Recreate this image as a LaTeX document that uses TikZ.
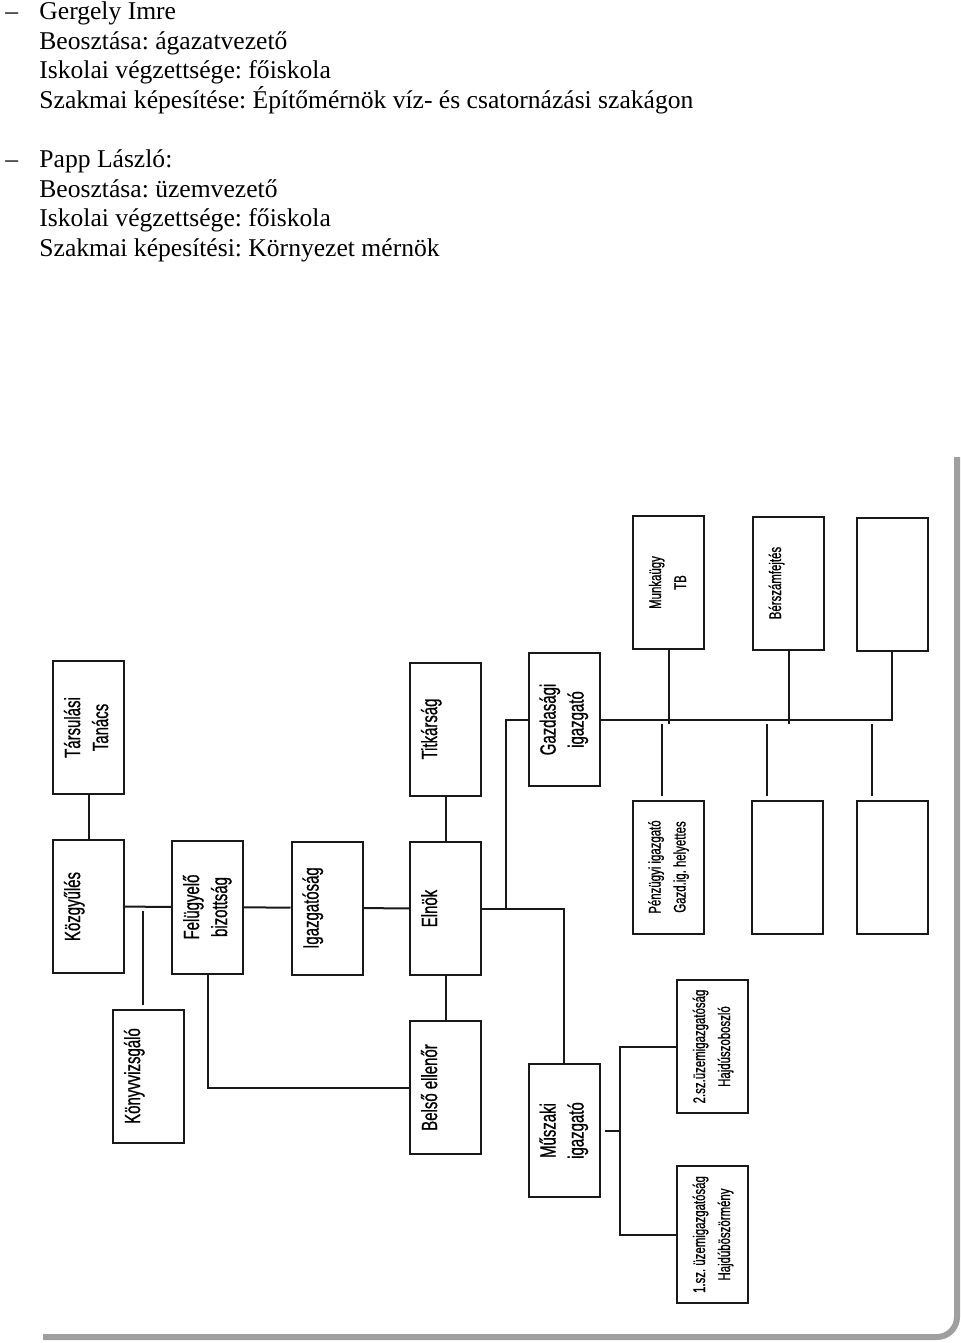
\documentclass[tikz,border=0pt]{standalone}
\usepackage{fontspec}
\setmainfont{Liberation Serif}
\newfontfamily\boxfont[FakeStretch=0.68,FakeBold=0.8]{Liberation Sans}
\usepackage{graphicx}
\usetikzlibrary{positioning,calc}
\newcommand{\vlbl}[1]{\rotatebox{90}{\begin{tabular}{@{}c@{}}#1\end{tabular}}}
\frenchspacing

\begin{document}
\begin{tikzpicture}[x=0.5pt,y=-0.5pt,
  unit/.style={draw=black!90,line width=1pt,minimum width=35.5pt,minimum height=66.5pt,inner sep=0pt,font=\boxfont\fontsize{11}{14}\selectfont},
  subunit/.style={unit,font=\boxfont\fontsize{8.4}{12.5}\selectfont},
  link/.style={black!90,line width=1pt},
  gap/.style={link,shorten <=2pt,shorten >=2pt},
  txtline/.style={anchor=base west,inner sep=0pt,font=\fontsize{12.8}{14.75}\selectfont}]
\useasboundingbox (0,0) rectangle (960,1343);
\node[txtline] (dash1) at (5,20) {–};
\node[txtline] (imre1) at (39,20) {Gergely Imre};
\node[txtline] (imre2) at (39,49.5) {Beosztása: ágazatvezető};
\node[txtline] (imre3) at (39,79) {Iskolai végzettsége: főiskola};
\node[txtline] (imre4) at (39,108.5) {Szakmai képesítése: Építőmérnök víz- és csatornázási szakágon};
\node[txtline] (dash2) at (5,167.5) {–};
\node[txtline] (papp1) at (39,167.5) {Papp László:};
\node[txtline] (papp2) at (39,197) {Beosztása: üzemvezető};
\node[txtline] (papp3) at (39,226.5) {Iskolai végzettsége: főiskola};
\node[txtline] (papp4) at (39,256) {Szakmai képesítési: Környezet mérnök};

\node[unit] (tarsulas) at (88.5,727.5) {\vlbl{Társulási\\Tanács}};
\node[unit] (kozgyules) at (88.5,906.5) {\vlbl{Közgyűlés\\~}};
\node[unit] (felugyelo) at (207.5,907) {\vlbl{Felügyelő\\bizottság}};
\node[unit] (igazgatosag) at (327,908) {\vlbl{Igazgatóság\\~}};
\node[unit] (elnok) at (445.5,908.5) {\vlbl{Elnök\\~}};
\node[unit] (titkarsag) at (445.5,729) {\vlbl{Titkárság\\~}};
\node[unit] (konyv) at (148.5,1076) {\vlbl{Könyvvizsgáló\\~}};
\node[unit] (belso) at (445.5,1087.5) {\vlbl{Belső ellenőr\\~}};
\node[unit] (gazd) at (564,719.5) {\vlbl{Gazdasági\\igazgató}};
\node[unit] (muszaki) at (564,1130.5) {\vlbl{Műszaki\\igazgató}};
\node[subunit] (munkaugy) at (668.5,582.5) {\vlbl{Munkaügy\\TB}};
\node[subunit] (berszam) at (788.5,583) {\vlbl{Bérszámfejtés\\~}};
\node[subunit] (ures1) at (892,584) {};
\node[subunit] (penzugy) at (668,867) {\vlbl{Pénzügyi igazgató\\Gazd.ig. helyettes}};
\node[subunit] (ures2) at (787.5,867) {};
\node[subunit] (ures3) at (892,867) {};
\node[subunit] (uzem2) at (712.5,1046.5) {\vlbl{2.sz.üzemigazgatóság\\Hajdúszoboszló}};
\node[subunit,minimum height=68.5pt] (uzem1) at (712.5,1234.5) {\vlbl{1.sz. üzemigazgatóság\\Hajdúböszörmény}};

\draw[link] (tarsulas) -- (kozgyules);
\draw[link] (kozgyules) -- (felugyelo);
\draw[link] (felugyelo) -- (igazgatosag);
\draw[link] (igazgatosag) -- (elnok);
\draw[link] (titkarsag) -- (elnok);
\draw[link] (elnok) -- (belso);
\draw[gap] ([xshift=-2.75pt]konyv.north) -- ([xshift=-2.75pt]konyv.north |- kozgyules.east);
\draw[link] (felugyelo.south) |- (belso.west);
\draw[link] (elnok.east) -| (muszaki.north);
\draw[link] (gazd.west) -| ([xshift=12pt]elnok.east);
\draw[link] (gazd.east) -| (ures1.south);
\draw[link] (munkaugy.south) -- ([yshift=-2pt]munkaugy.south |- gazd.east);
\draw[link] (berszam.south) -- ([yshift=-2pt]berszam.south |- gazd.east);
\draw[gap] ([xshift=-3pt]penzugy.north) -- ([xshift=-3pt]penzugy.north |- gazd.east);
\draw[gap] ([xshift=-10.25pt]ures2.north) -- ([xshift=-10.25pt]ures2.north |- gazd.east);
\draw[gap] ([xshift=-10pt]ures3.north) -- ([xshift=-10pt]ures3.north |- gazd.east);
\draw[link,shorten <=2pt] (muszaki.east) -- ([xshift=9.5pt]muszaki.east);
\draw[link] (uzem2.west) -| ([xshift=9.5pt]muszaki.east) |- (uzem1.west);

\draw[gray!75,line width=3pt,rounded corners=10pt] (957,457) -- (957,1337) -- (43,1337);
\end{tikzpicture}
\end{document}
